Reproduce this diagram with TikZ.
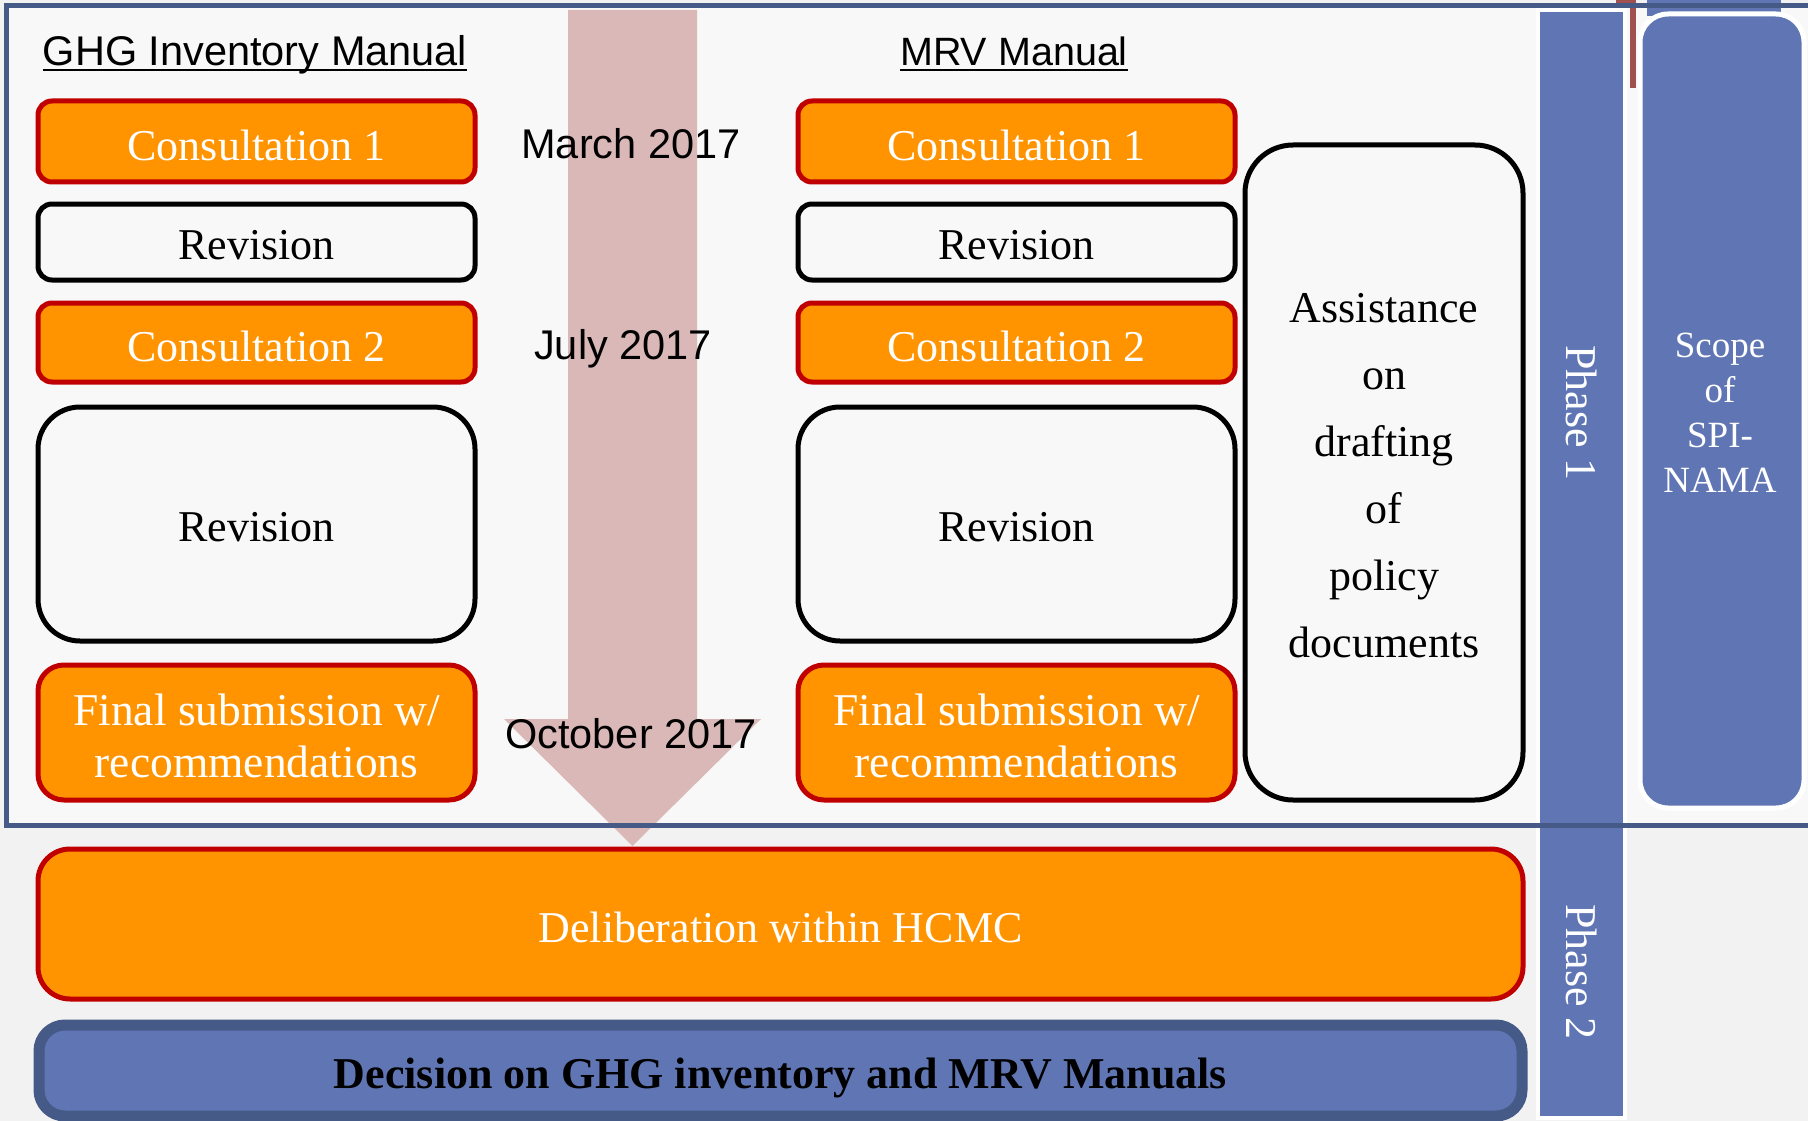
\documentclass[tikz,border=0pt]{standalone}
\usepackage{fontspec}
\setmainfont{Liberation Serif}
\setsansfont{Liberation Sans}
\definecolor{orng}{HTML}{FF9400}
\definecolor{bordred}{HTML}{C00000}
\definecolor{barblue}{HTML}{6076B4}
\definecolor{darkblue}{HTML}{465A88}
\definecolor{arrowpink}{HTML}{DBB8B8}
\definecolor{pagebg}{HTML}{F2F2F2}
\definecolor{framebg}{HTML}{F8F8F8}
\definecolor{redline}{HTML}{A0504F}
\newcommand\serifL{\fontsize{44}{52}\selectfont}
\newcommand\sansL{\sffamily\fontsize{41.5}{48}\selectfont}
\newcommand\lowr[1]{\raisebox{-3.5pt}[\height][\depth]{#1}}
\newcommand\lowrr[1]{\raisebox{-7pt}[\height][\depth]{#1}}
\tikzset{
  obox/.style={draw=bordred, fill=orng, line width=5pt, rounded corners=14pt, text=white,
    font=\serifL, inner sep=0pt, align=center},
  wbox/.style={draw=black, fill=framebg, line width=5pt, rounded corners=14pt, text=black,
    font=\serifL, inner sep=0pt, align=center},
  lbl/.style={font=\sansL, inner sep=0pt, text=black, anchor=base},
  uline/.style={line width=2.5pt, black},
  phaselbl/.style={font=\serifL, text=white, rotate=-90, inner sep=0pt},
}
\begin{document}
\begin{tikzpicture}[x=1pt,y=-1pt]
\useasboundingbox (0,0) rectangle (1808,1121);
\clip (0,0) rectangle (1808,1121);
% page background
\fill[pagebg] (0,0) rectangle (1808,1121);
% phase 1 frame fill
\fill[framebg] (6,6) rectangle (1840,825);
% timeline arrow
\fill[arrowpink] (568,10) -- (697,10) -- (697,719) -- (761,719) -- (632.5,846)
  -- (504,719) -- (568,719) -- cycle;
% phase bar
\node[draw=white, line width=4pt, fill=barblue, minimum width=87pt, minimum height=1108pt,
  inner sep=0pt] (phasebar) at (1581.5,564) {};
% red line at top right
\draw[redline, line width=6pt] (1616,1) -- (1633,1) -- (1633,88);
% scope box
\fill[barblue] (1647,0) rectangle (1781,16);
\node[draw=white, line width=5pt, fill=barblue, rounded corners=28pt, minimum width=164pt,
  minimum height=794pt, inner sep=0pt] (scope) at (1722,411) {};
% frame line
\draw[darkblue, line width=5pt] (1840,6) -- (6,6) -- (6,825) -- (1840,825);
% titles
\node[lbl] (ghgtitle) at (255,66) {GHG Inventory Manual};
\node[lbl, font=\sffamily\fontsize{39.5}{46}\selectfont] (mrvtitle) at (1014,66) {MRV Manual};
\draw[uline] ([yshift=-4pt]ghgtitle.base west) -- ([yshift=-4pt]ghgtitle.base east);
\draw[uline] ([yshift=-4pt]mrvtitle.base west) -- ([yshift=-4pt]mrvtitle.base east);
% dates
\node[lbl] (march) at (631,159) {March 2017};
\node[lbl] (july) at (623,359) {July 2017};
\node[lbl] (october) at (631,748) {October 2017};
% left column
\node[obox, minimum width=437pt, minimum height=81pt] (gc1) at (256.5,141.5) {\lowr{Consultation 1}};
\node[wbox, minimum width=437pt, minimum height=76pt] (gr1) at (256.5,242) {\lowr{Revision}};
\node[obox, minimum width=437pt, minimum height=79pt] (gc2) at (256.5,342.5) {\lowr{Consultation 2}};
\node[wbox, rounded corners=42pt, minimum width=437pt, minimum height=234pt] (gr2) at (256.5,524) {\lowr{Revision}};
\node[obox, rounded corners=26pt, minimum width=437pt, minimum height=135pt,
  font=\fontsize{45.5}{52}\selectfont] (gfin) at (256.5,732.5)
  {\lowr{Final submission w/}\\\lowr{recommendations}};
% right column
\node[obox, minimum width=437pt, minimum height=81pt] (mc1) at (1016.5,141.5) {\lowr{Consultation 1}};
\node[wbox, minimum width=437pt, minimum height=76pt] (mr1) at (1016.5,242) {\lowr{Revision}};
\node[obox, minimum width=437pt, minimum height=79pt] (mc2) at (1016.5,342.5) {\lowr{Consultation 2}};
\node[wbox, rounded corners=42pt, minimum width=437pt, minimum height=234pt] (mr2) at (1016.5,524) {\lowr{Revision}};
\node[obox, rounded corners=26pt, minimum width=437pt, minimum height=135pt,
  font=\fontsize{45.5}{52}\selectfont] (mfin) at (1016.5,732.5)
  {\lowr{Final submission w/}\\\lowr{recommendations}};
% assistance
\node[wbox, rounded corners=48pt, minimum width=278pt, minimum height=655pt,
  font=\fontsize{44}{67}\selectfont] (assist) at (1384,472.5)
  {\lowr{Assistance}\\\lowr{on}\\\lowr{drafting}\\\lowr{of}\\\lowr{policy}\\\lowr{documents}};
% phase 2
\node[obox, rounded corners=32pt, minimum width=1485pt, minimum height=150pt] (delib) at (780.5,924)
  {\lowr{Deliberation within HCMC}};
\node[draw=darkblue, fill=barblue, line width=11pt, rounded corners=26pt, minimum width=1483pt,
  minimum height=91pt, inner sep=0pt, font=\serifL\bfseries, text=black] (decision) at (780.5,1070.5)
  {\lowrr{Decision on GHG inventory and MRV Manuals}};
% phase labels
\node[phaselbl] (ph1) at (1582,413) {Phase 1};
\node[phaselbl] (ph2) at (1582,972) {Phase 2};
\node[font=\fontsize{37}{45}\selectfont, text=white, align=center, inner sep=0pt] (scopetxt)
  at (1720,413) {Scope\\of\\SPI-\\NAMA};
\end{tikzpicture}
\end{document}
